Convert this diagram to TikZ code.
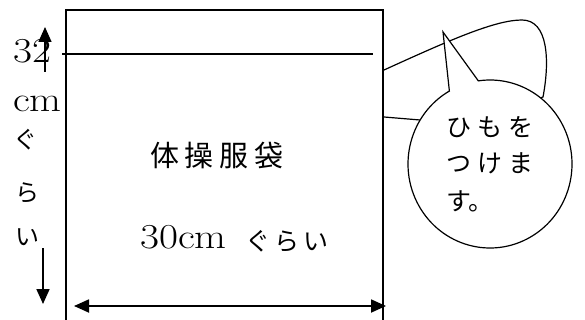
\documentclass[tikz,border=0pt]{standalone}
\usepackage{graphicx}
\usepackage{fontspec}
\newfontfamily\jp{Noto Sans CJK JP}
\usetikzlibrary{arrows.meta}
\newcommand{\widetxt}[1]{\scalebox{1.18}[1]{#1}}
\begin{document}
\begin{tikzpicture}[x=1pt,y=1pt,
  thick line/.style={line width=1.8pt},
  thin line/.style={line width=1.2pt},
  dimarrow/.style={line width=1.8pt,-{Triangle[length=15pt,width=13pt]}},
  lat/.style={inner sep=0pt,font=\fontsize{35}{35}\selectfont},
  jtxt/.style={inner sep=0pt,font=\jp\fontsize{25}{25}\selectfont},
  jsmall/.style={inner sep=0pt,font=\jp\fontsize{24}{24}\selectfont},
  jbig/.style={inner sep=0pt,font=\jp\fontsize{29}{29}\selectfont}]
\useasboundingbox (0,0) rectangle (585,-320);
\fill[white] (0,0) rectangle (585,-320);
% bag outline
\coordinate (bl) at (66,-330);
\coordinate (tl) at (66,-10);
\coordinate (tr) at (383,-10);
\coordinate (br) at (383,-330);
\draw[thick line] (bl) -- (tl) -- (tr) -- (br);
% inner fold line
\coordinate (fl) at (62,-54);
\coordinate (fr) at (373,-54);
\draw[thin line] (fl) -- (fr);
% string loop
\coordinate (s1) at (384,-70);
\coordinate (s2) at (543,-97);
\coordinate (s3) at (470,-125);
\coordinate (s4) at (384,-117);
\draw[thin line] (s1) .. controls (450,-40) and (495,-20) .. (522,-20)
  .. controls (548,-20) and (550,-60) .. (s2) -- (s3) -- (420,-120) -- (s4);
% balloon
\path[draw,fill=white,thin line] (443,-32) -- ([shift={(490,-164)}]119.7:82pt and 84pt)
  arc[start angle=119.7,end angle=458.2,x radius=82pt,y radius=84pt] -- cycle;
\node[jtxt,anchor=west] (b1) at (446,-127) {ひ\hspace{6pt}も\hspace{6pt}を};
\node[jtxt,anchor=west] (b2) at (446,-163) {つ\hspace{6pt}け\hspace{6pt}ま};
\node[jtxt,anchor=west] (b3) at (446,-201) {す。};
% title
\node[jbig] (title) at (217,-155) {体\hspace{6pt}操\hspace{6pt}服\hspace{6pt}袋};
% width label
\node[lat,anchor=base west] (w1) at (140,-248) {\widetxt{30cm}};
\node[jtxt,anchor=west] (w2) at (245,-241) {ぐ\hspace{4pt}ら\hspace{4pt}い};
% height label
\node[lat,anchor=base west] (h1) at (13,-63) {\widetxt{32}};
\node[lat,anchor=base west] (h2) at (13,-112) {\widetxt{cm}};
\node[jsmall] (h3) at (25,-140) {ぐ};
\node[jsmall] (h4) at (27,-193) {ら};
\node[jsmall] (h5) at (27,-237) {い};
% dimension arrows
\coordinate (ua) at (45,-72);
\coordinate (ub) at (45,-27);
\draw[dimarrow,line width=1.5pt] (ua) -- (ub);
\coordinate (da) at (43,-248);
\coordinate (db) at (43,-304);
\draw[dimarrow] (da) -- (db);
\coordinate (la) at (74,-306);
\coordinate (ra) at (386,-306);
\draw[dimarrow,{Triangle[length=15pt,width=13pt]}-{Triangle[length=15pt,width=13pt]}] (la) -- (ra);
\end{tikzpicture}
\end{document}
